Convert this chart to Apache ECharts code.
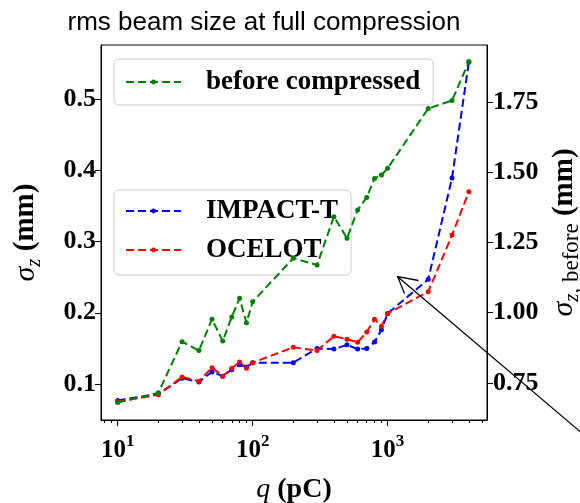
<!DOCTYPE html>
<html>
<head>
<meta charset="utf-8">
<script src="https://cdn.jsdelivr.net/npm/echarts@6/dist/echarts.min.js"></script>
<style>html,body{margin:0;padding:0;background:#fff;}#c{width:580px;height:503px;}</style>
</head>
<body>
<div id="c"></div>
<script>
// ---- data ----
const charges = [10,20,30,40,50,60,70,80,90,100,200,300,400,500,600,700,800,900,1000,2000,3000,4000];
const impactT = [0.077,0.086,0.108,0.103,0.117,0.111,0.120,0.127,0.124,0.130,0.130,0.150,0.149,0.155,0.149,0.150,0.159,0.176,0.199,0.247,0.389,0.552];
const ocelot  = [0.075,0.085,0.110,0.104,0.123,0.111,0.122,0.131,0.122,0.130,0.1515,0.147,0.167,0.163,0.1585,0.173,0.191,0.181,0.199,0.2295,0.309,0.370];
const beforeCompressed = [0.680,0.715,0.897,0.865,0.977,0.899,0.985,1.051,0.964,1.039,1.194,1.170,1.342,1.265,1.366,1.410,1.478,1.490,1.514,1.727,1.755,1.894];
const xMajorTicks = [10,100,1000];
const xMinorTicks = [8,9,20,30,40,50,60,70,80,90,200,300,400,500,600,700,800,900,2000,3000,4000,5000];
const leftTicks = [0.1,0.2,0.3,0.4,0.5];
const rightTicks = [0.75,1.0,1.25,1.5,1.75];

const pairs = ys => charges.map((q,i)=>[q, ys[i]]);
const serif = '"Liberation Serif","DejaVu Serif",serif';
const tickFont = {fontFamily: serif, fontWeight: 'bold', fontSize: 26, color: '#000'};

const chart = echarts.init(document.getElementById('c'), null, {renderer:'canvas'});
const dash = [8,4];
function lineSeries(name, data, color, yIdx){
  return {
    name, type:'line', data: pairs(data), yAxisIndex: yIdx, xAxisIndex: 0,
    symbol:'circle', symbolSize:5, showSymbol:true,
    lineStyle:{color, width:2, type: dash},
    itemStyle:{color},
    animation:false, z: yIdx===1 ? 4 : 3
  };
}
const legendBase = {
  orient:'vertical', selectedMode:false, itemWidth:55, itemHeight:6,
  backgroundColor:'rgba(255,255,255,0.8)', borderColor:'#cccccc', borderWidth:1, borderRadius:5,
  textStyle:{fontFamily: serif, fontWeight:'bold', fontSize:27, color:'#000', padding:[0,0,0,20], lineHeight:30},
  itemGap: 9
};
const nameRich = {
  s:{fontFamily:serif, fontStyle:'italic', fontSize:30, color:'#000'},
  sub:{fontFamily:serif, fontStyle:'italic', fontSize:21, color:'#000', verticalAlign:'bottom', lineHeight:38},
  subr:{fontFamily:serif, fontSize:23, color:'#000', verticalAlign:'bottom', lineHeight:38},
  b:{fontFamily:serif, fontWeight:'bold', fontSize:29, color:'#000'}
};
const xNameRich = {
  s:{fontFamily:serif, fontStyle:'italic', fontSize:28, color:'#000'},
  b:{fontFamily:serif, fontWeight:'bold', fontSize:28, color:'#000'}
};
const option = {
  animation:false,
  title:{text:'rms beam size at full compression', left:259, top:5, textAlign:'center',
    textStyle:{fontFamily:'"Liberation Sans",Arial,sans-serif', fontWeight:'normal', fontSize:26, color:'#000'}},
  grid:{left:101, top:45, width:386, height:375, show:true, borderColor:'#000', borderWidth:1,
        backgroundColor:'transparent', containLabel:false, outerBoundsMode:'none'},
  legend:[
    Object.assign({}, legendBase, {data:['before compressed'], left:114, top:59, padding:[8,13,8,11]}),
    Object.assign({}, legendBase, {data:['IMPACT-T','OCELOT'], left:114, top:190, padding:[6,13,10,11]})
  ],
  xAxis:[
    {type:'log', logBase:10, min:7.52, max:5450, position:'bottom',
     axisLine:{show:true, lineStyle:{color:'#000', width:1}},
     axisTick:{show:true, inside:false, length:6, lineStyle:{color:'#000'}, customValues: xMajorTicks},
     axisLabel:{show:true, customValues: xMajorTicks, margin:13,
       formatter: v => '{b|10}{s|' + Math.round(Math.log10(v)) + '}',
       rich:{ b:Object.assign({}, tickFont, {fontSize:25, lineHeight:30, verticalAlign:'bottom'}),
              s:Object.assign({}, tickFont, {fontSize:17, lineHeight:30, verticalAlign:'top'}) }},
     splitLine:{show:false}, minorTick:{show:false},
     name:'{s|q }{b|(pC)}', nameLocation:'middle', nameGap:56,
     nameTextStyle:{rich:xNameRich}
    },
    {type:'log', logBase:10, min:7.52, max:5450, position:'bottom',
     axisLine:{show:false}, axisLabel:{show:false}, splitLine:{show:false},
     axisTick:{show:true, inside:false, length:3, lineStyle:{color:'#000'}, customValues: xMinorTicks}}
  ],
  yAxis:[
    {type:'value', position:'left', min:0.0495, max:0.5758,
     axisLine:{show:true, lineStyle:{color:'#000'}},
     axisTick:{show:true, length:6, lineStyle:{color:'#000'}, customValues:leftTicks},
     axisLabel:Object.assign({}, tickFont, {customValues:leftTicks, margin:5, formatter: v=>v.toFixed(1)}),
     splitLine:{show:false},
     name:'{s|σ}{sub|z}{b| (mm)}', nameLocation:'middle', nameRotate:90, nameGap:56,
     nameTextStyle:{rich:nameRich}
    },
    {type:'value', position:'right', min:0.618, max:1.953,
     axisLine:{show:true, lineStyle:{color:'#000'}},
     axisTick:{show:true, length:6, lineStyle:{color:'#000'}, customValues:rightTicks},
     axisLabel:Object.assign({}, tickFont, {customValues:rightTicks, margin:6, formatter: v=>v.toFixed(2)}),
     splitLine:{show:false},
     name:'{s|σ}{sub|z}{subr|, before}{b| (mm)}', nameLocation:'middle', nameRotate:90, nameGap:55,
     nameTextStyle:{rich:nameRich, verticalAlign:'top'}
    }
  ],
  series:[
    lineSeries('IMPACT-T', impactT, '#0000ff', 0),
    lineSeries('OCELOT', ocelot, '#ff0000', 0),
    lineSeries('before compressed', beforeCompressed, '#008000', 1)
  ],
  graphic:[
    {type:'line', shape:{x1:397.7, y1:276.7, x2:590, y2:440}, style:{stroke:'#000', lineWidth:1.3}, z:100},
    {type:'polyline', shape:{points:[[418.5,280.5],[397.7,276.7],[404.5,293.5]]}, style:{stroke:'#000', lineWidth:1.3, fill:null}, z:100}
  ]
};
chart.setOption(option);
</script>
</body>
</html>
